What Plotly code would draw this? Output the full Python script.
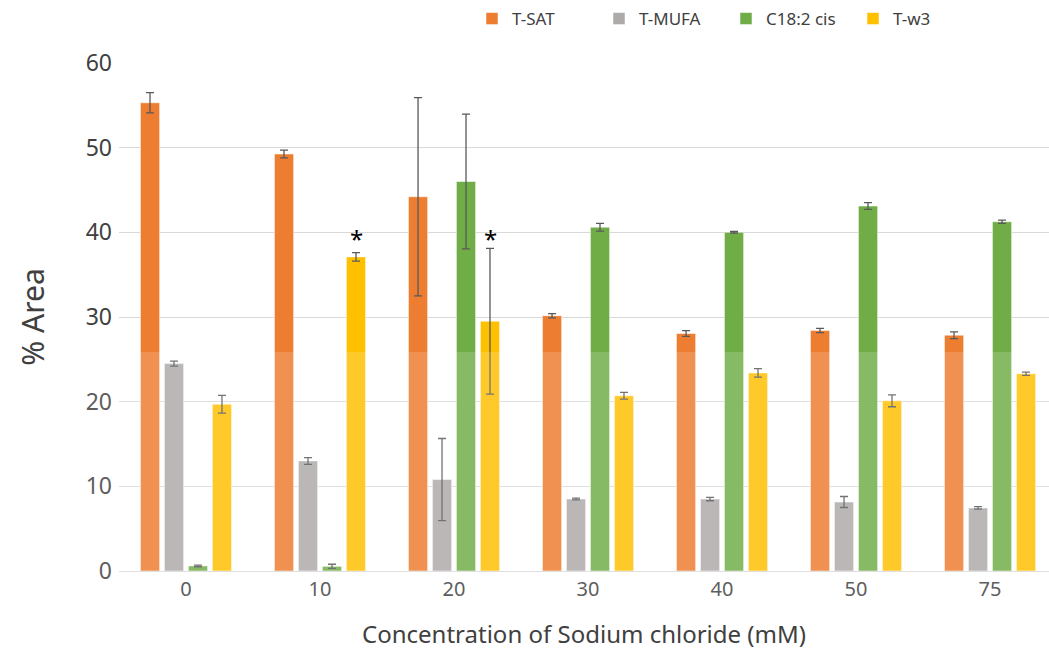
import plotly.graph_objects as go

# NaCl concentrations (mM) and fatty-acid group composition (% area), mean ± SD
concentrations = ["0", "10", "20", "30", "40", "50", "75"]

t_sat = [55.3, 49.25, 44.2, 30.15, 28.05, 28.4, 27.85]
t_sat_sd = [1.2, 0.45, 11.7, 0.25, 0.35, 0.25, 0.4]

t_mufa = [24.5, 13.0, 10.8, 8.5, 8.5, 8.15, 7.45]
t_mufa_sd = [0.3, 0.4, 4.85, 0.1, 0.2, 0.65, 0.15]

c18_2 = [0.6, 0.55, 46.0, 40.6, 40.0, 43.1, 41.25]
c18_2_sd = [0.1, 0.25, 7.95, 0.45, 0.1, 0.4, 0.2]

t_w3 = [19.7, 37.1, 29.5, 20.7, 23.4, 20.1, 23.3]
t_w3_sd = [1.05, 0.5, 8.6, 0.4, 0.5, 0.7, 0.2]

# groups flagged as significantly different (T-w3)
star_groups = ["10", "20"]
star_level = [39.8, 39.7]

series = [
    ("T-SAT", t_sat, t_sat_sd, "#ED7D31"),
    ("T-MUFA", t_mufa, t_mufa_sd, "#AEAAAA"),
    ("C18:2 cis", c18_2, c18_2_sd, "#70AD47"),
    ("T-w3", t_w3, t_w3_sd, "#FFC000"),
]

FONT = "Noto Sans"
TXT = "#404040"

fig = go.Figure()
for name, vals, sd, color in series:
    fig.add_trace(go.Bar(
        name=name,
        x=concentrations,
        y=vals,
        marker=dict(color=color, line=dict(color="rgba(255,255,255,0.5)", width=1)),
        error_y=dict(type="data", array=sd, visible=True,
                     color="#595959", thickness=1.3, width=4),
    ))

for g, lvl in zip(star_groups, star_level):
    fig.add_annotation(x=concentrations.index(g), y=lvl, xref="x", yref="y", text="*",
                       showarrow=False, xshift=36, yshift=-4,
                       font=dict(family=FONT, size=24, color="#000000"))

# light haze over the lower part of the figure
fig.add_shape(type="rect", xref="paper", yref="paper",
              x0=-0.2, x1=1.05, y0=-0.2, y1=(571 - 352) / 508,
              fillcolor="rgba(255,255,255,0.16)", line=dict(width=0), layer="above")

fig.update_layout(
    width=1049, height=652,
    margin=dict(l=119, r=0, t=63, b=81, autoexpand=False),
    paper_bgcolor="#FFFFFF", plot_bgcolor="#FFFFFF",
    barmode="group", bargap=0.284, bargroupgap=0.2,
    font=dict(family=FONT, color=TXT),
    showlegend=True,
    legend=dict(orientation="h", x=(472 - 119) / 930, xanchor="left",
                yref="container", y=1 - 19 / 652, yanchor="middle",
                font=dict(family=FONT, size=17, color=TXT),
                entrywidth=82, entrywidthmode="pixels",
                itemwidth=30, traceorder="normal"),
    xaxis=dict(type="category", range=[-0.5, 6.44],
               tickfont=dict(family=FONT, size=20, color=TXT),
               showgrid=False, showline=True, linecolor="#D9D9D9", linewidth=1,
               ticks="", title=dict(text="Concentration of Sodium chloride (mM)",
                                    font=dict(family=FONT, size=24, color=TXT), standoff=25)),
    yaxis=dict(range=[0, 60], dtick=10,
               tickfont=dict(family=FONT, size=23, color=TXT), ticklabelstandoff=6,
               showgrid=True, gridcolor="#D9D9D9", gridwidth=1,
               zeroline=False, showline=False, ticks="", ticklen=0,
               title=dict(text="% Area", font=dict(family=FONT, size=30, color=TXT), standoff=32)),
)

fig.write_html("out.html")
